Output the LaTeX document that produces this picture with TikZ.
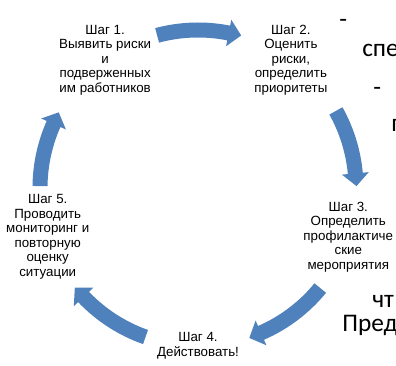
\documentclass[tikz,border=0pt]{standalone}
\usepackage{fontspec}
\setmainfont{Liberation Sans}
\newfontfamily\bgfont{Carlito}
\usetikzlibrary{calc}
\definecolor{arrowblue}{RGB}{79,129,189}
\newcommand{\hd}{4.6}
\newcommand{\cycarrow}[2]{%
  \fill[arrowfill] (#1:165.5) arc[start angle=#1, end angle=#2+\hd, radius=165.5]
    -- (#2+\hd:171.5) -- (#2:158.5) -- (#2+\hd:144.5) -- (#2+\hd:150.5)
    arc[start angle=#2+\hd, end angle=#1, radius=150.5] -- cycle;}
\tikzset{
  arrowfill/.style={fill=arrowblue},
  steptext/.style={align=center, inner sep=0pt, text=black,
    font=\fontsize{10}{10.9}\selectfont},
  bgtext/.style={anchor=base west, inner sep=0pt, text=black,
    font=\bgfont\fontsize{19}{22}\selectfont}
}
\begin{document}
\begin{tikzpicture}[x=0.75pt, y=0.75pt]
\clip (0,0) rectangle (396,366);
\fill[white] (0,0) rectangle (396,366);
% background text fragments
\node[bgtext] (d1) at (339,338) {-};
\node[bgtext] (t1) at (362,309) {спе};
\node[bgtext] (d2) at (373,270) {-};
\node[bgtext] (t2) at (391,234) {п};
\node[bgtext] (t3) at (372,58) {чт};
\node[bgtext] (t4) at (342,34) {Пред};
\coordinate (c) at (198,178);
\begin{scope}[shift={(c)}]
  \cycarrow{105.0}{74.2}
  \cycarrow{29.2}{0.7}
  \cycarrow{-39.3}{-71.1}
  \cycarrow{-109.4}{-141}
  \cycarrow{179.3}{151.5}
  \node[steptext] (s1) at (126:158) {Шаг 1.\\Выявить риски\\и\\подверженных\\им работников};
  \node[steptext] (s2) at (54:158) {Шаг 2.\\Оценить\\риски,\\определить\\приоритеты};
  \node[steptext] (s3) at (-18:158) {Шаг 3.\\Определить\\профилактиче\\ские\\мероприятия};
  \node[steptext] (s4) at (-90:158) {Шаг 4.\\Действовать!};
  \node[steptext] (s5) at (-162:158) {Шаг 5.\\Проводить\\мониторинг и\\повторную\\оценку\\ситуации};
\end{scope}
\end{tikzpicture}
\end{document}
